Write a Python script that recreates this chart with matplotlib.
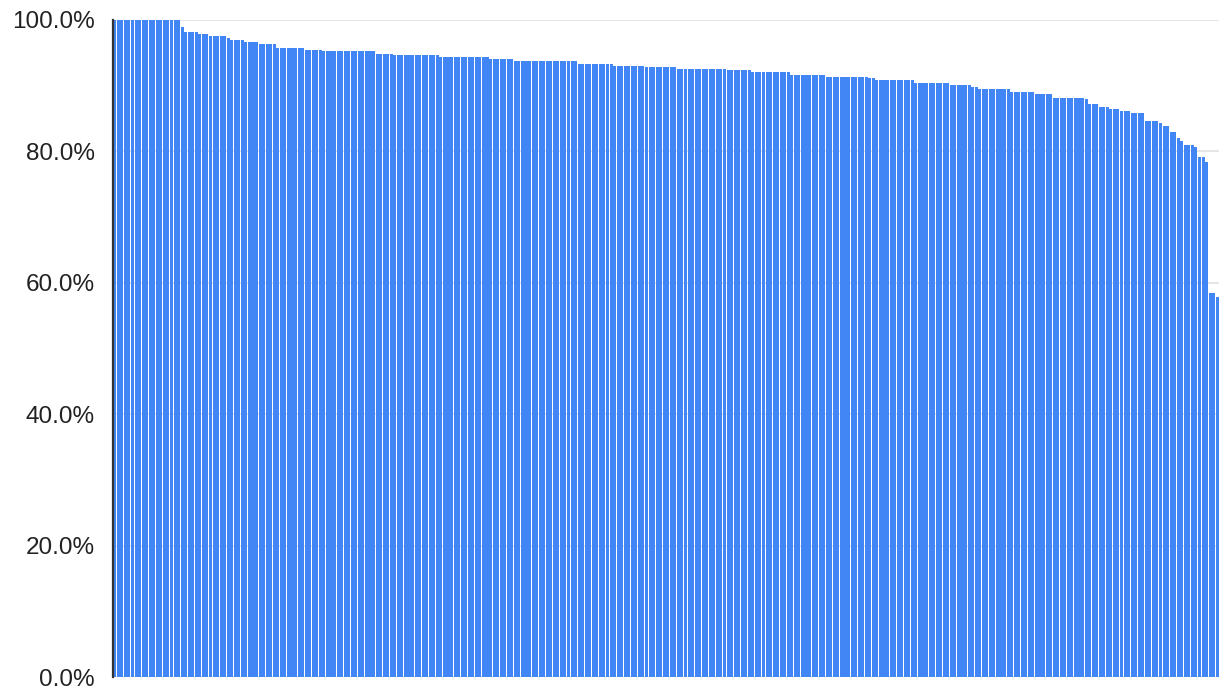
import matplotlib
matplotlib.use("Agg")
import matplotlib.pyplot as plt
import numpy as np
from matplotlib.ticker import FixedLocator, FuncFormatter

# share (%) per bar as (level, number of bars) runs, sorted descending
levels = [100.0, 98.9, 98.2, 97.9, 97.5, 97.2, 96.9, 96.6, 96.3, 95.8,
          95.5, 95.3, 94.9, 94.6, 94.3, 94.0, 93.7, 93.3, 93.0, 92.8,
          92.6, 92.4, 92.1, 91.7, 91.4, 91.1, 90.8, 90.4, 90.1, 89.8,
          89.5, 89.1, 88.8, 88.2, 87.9, 87.2, 86.8, 86.5, 86.2, 85.9,
          84.6, 84.3, 83.9, 82.9, 82.0, 81.6, 81.0, 80.6, 79.2, 78.4,
          58.4, 57.9]
counts = [19, 1, 4, 3, 5, 1, 4, 4, 5, 8,
          5, 15, 5, 13, 14, 7, 18, 10, 9, 9,
          14, 7, 11, 10, 12, 2, 11, 10, 6, 2,
          9, 7, 5, 9, 1, 3, 3, 3, 3, 4,
          4, 1, 2, 2, 1, 1, 3, 1, 2, 1,
          2, 1]

values = np.repeat(levels, counts)
n = len(values)

fig = plt.figure(figsize=(12.19, 6.89), dpi=100)
ax = fig.add_axes([113 / 1219, 1 - 677 / 689, 1 - 113 / 1219, (677 - 20) / 689])

ax.bar(np.arange(n), values, width=0.86, color="#4285f4", linewidth=0, zorder=2)

ax.set_xlim(-0.5, n - 0.5)
ax.set_ylim(0, 100)
ax.set_xticks([])

ax.yaxis.set_major_locator(FixedLocator([0, 20, 40, 60, 80, 100]))
ax.yaxis.set_major_formatter(FuncFormatter(lambda v, p: f"{v:.1f}%"))
ax.yaxis.set_minor_locator(FixedLocator([0, 100]))
ax.tick_params(axis="y", which="major", length=0, pad=13, labelsize=17.5,
               labelcolor="#222222")
ax.tick_params(axis="y", which="minor", length=12, width=1.6, color="#333333")
for lab in ax.get_yticklabels():
    lab.set_fontfamily("Liberation Sans")

ax.grid(axis="y", color="black", alpha=0.12, linewidth=1.2, zorder=3)
for s in ["top", "right", "bottom"]:
    ax.spines[s].set_visible(False)
ax.spines["left"].set_color("#333333")
ax.spines["left"].set_linewidth(1.6)
ax.spines["left"].set_zorder(4)

fig.savefig("out.png", dpi=100)
